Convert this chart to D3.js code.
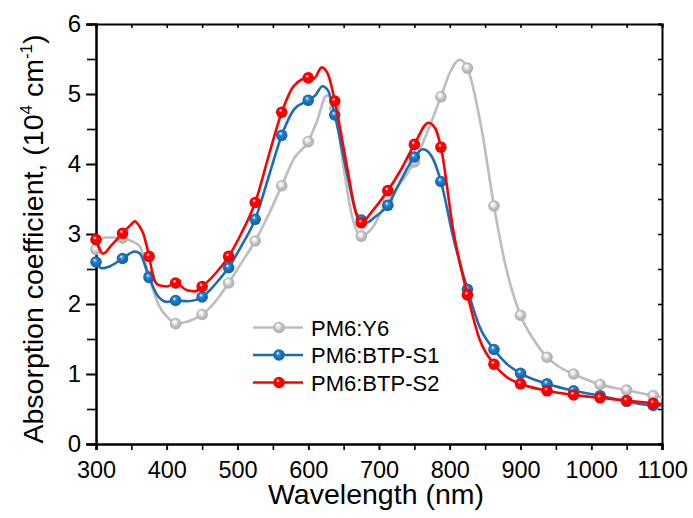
<!DOCTYPE html>
<html lang="en">
	<head>
		<meta charset="utf-8">
		<title>Absorption coefficient</title>
		<style>
			body { margin: 0; background: #fff; }
			svg text { font-family: Arial, "Liberation Sans", sans-serif; fill: #000; }
		</style>
	</head>
	<body>
		<div id="chart"></div>
		<script src="https://d3js.org/d3.v7.min.js"></script>
		<script>

			// data (wavelength in nm, coefficient in 1e4 cm-1)
			var y6W  = [300,306,312,325,337.5,350,362,375,383,390,402,412.5,430,450,470,487.5,505,525,545,562.5,580,600,612,626,637.5,650,662,675,690,712.5,730,750,770,787.5,800,814,825,845,862.5,880,900,918,937.5,955,975,1012.5,1050,1087.5,1100]
			var y6V  = [2.78,2.9,2.95,2.95,2.94,2.9,2.82,2.4,2.13,1.96,1.8,1.72,1.75,1.85,2.05,2.30,2.58,2.90,3.3,3.69,4.08,4.32,4.6,4.98,4.8,3.95,3.25,2.97,3.08,3.5,3.72,4.03,4.5,4.96,5.3,5.49,5.37,4.5,3.40,2.5,1.84,1.5,1.24,1.1,1.0,0.85,0.77,0.69,0.67]

			var s1W  = [300,308,320,337.5,355,362,375,387,400,412.5,430,450,470,487.5,505,525,545,562.5,580,600,610,620,628,637.5,655,668,675,682,695,712.5,730,750,762,775,787.5,805,825,842,862.5,880,900,937.5,975,1012.5,1050,1087.5,1100]
			var s1V  = [2.60,2.51,2.54,2.65,2.75,2.72,2.38,2.12,2.03,2.05,2.04,2.10,2.3,2.52,2.82,3.21,3.85,4.41,4.78,4.91,4.98,5.11,5.05,4.70,3.85,3.3,3.2,3.16,3.25,3.41,3.75,4.10,4.21,4.1,3.75,2.95,2.21,1.68,1.35,1.15,1.01,0.86,0.76,0.69,0.61,0.55,0.55]

			var s2W  = [300,310,322,337.5,348,355,362,367,375,381,388,400,412.5,428,440,450,470,487.5,505,525,545,562.5,580,600,608,619,628,637.5,655,668,675,690,712.5,730,750,770,780,787.5,805,825,842,862.5,880,900,937.5,975,1012.5,1050,1087.5,1100]
			var s2V  = [2.92,2.72,2.84,3.01,3.12,3.18,3.1,3.0,2.68,2.39,2.27,2.25,2.30,2.2,2.18,2.25,2.45,2.68,3.0,3.45,4.15,4.74,5.12,5.23,5.22,5.38,5.28,4.90,3.95,3.28,3.16,3.32,3.62,3.9,4.28,4.59,4.5,4.24,3.05,2.13,1.5,1.14,0.96,0.86,0.76,0.70,0.66,0.62,0.58,0.57]

			var markerW = [300,337.5,375,412.5,450,487.5,525,562.5,600,637.5,675,712.5,750,787.5,825,862.5,900,937.5,975,1012.5,1050,1087.5]

			var seriesNames = ["PM6:Y6", "PM6:BTP-S1", "PM6:BTP-S2"]
			var seriesColors = ["#bdbdbd", "#1a6db5", "#ff0000"]
			var xTicks = [300,400,500,600,700,800,900,1000,1100]
			var yTicks = [0,1,2,3,4,5,6]

			var series = [
				{name: seriesNames[0], color: seriesColors[0], w: y6W, v: y6V},
				{name: seriesNames[1], color: seriesColors[1], w: s1W, v: s1V},
				{name: seriesNames[2], color: seriesColors[2], w: s2W, v: s2V}
			]

			var W = 693, H = 518
			var margin = {top: 24, right: 31, bottom: 74, left: 96}
			var width = W - margin.left - margin.right,
			    height = H - margin.top - margin.bottom

			var svg = d3.select("#chart").append("svg")
				.attr("width", W).attr("height", H)

			var defs = svg.append("defs")
			series.forEach(function(s, i) {
				var g = defs.append("radialGradient")
					.attr("id", "ball" + i)
					.attr("cx", "50%").attr("cy", "50%").attr("r", "55%")
					.attr("fx", "38%").attr("fy", "32%")
				g.append("stop").attr("offset", "0%").attr("stop-color", "#ffffff")
				g.append("stop").attr("offset", "30%").attr("stop-color", d3.color(s.color).brighter(0.6))
				g.append("stop").attr("offset", "60%").attr("stop-color", s.color)
				g.append("stop").attr("offset", "100%").attr("stop-color", d3.color(s.color).darker(0.3))
			})

			var plot = svg.append("g")
				.attr("transform", "translate(" + margin.left + "," + margin.top + ")")

			var x = d3.scaleLinear().domain([300, 1100]).range([0, width])
			var y = d3.scaleLinear().domain([0, 6]).range([height, 0])

			var minorX = d3.range(300, 1101, 50)
			var minorY = d3.range(0, 6.01, 0.5)

			// bottom axis
			plot.append("g")
				.attr("transform", "translate(0," + height + ")")
				.call(d3.axisBottom(x).tickValues(minorX).tickSize(6).tickFormat(""))
			plot.append("g")
				.attr("class", "xlab")
				.attr("transform", "translate(0," + height + ")")
				.call(d3.axisBottom(x).tickValues(xTicks).tickSize(6).tickPadding(11).tickFormat(d3.format("d")))
			// top axis, ticks inward
			plot.append("g")
				.call(d3.axisTop(x).tickValues(minorX).tickSize(-4).tickFormat(""))
			// left axis
			plot.append("g")
				.call(d3.axisLeft(y).tickValues(minorY).tickSize(9).tickFormat(""))
			plot.append("g")
				.call(d3.axisLeft(y).tickValues(yTicks).tickSize(10).tickPadding(5).tickFormat(d3.format("d")))
			// right axis, ticks inward
			plot.append("g")
				.attr("transform", "translate(" + width + ",0)")
				.call(d3.axisRight(y).tickValues(minorY).tickSize(-4).tickFormat(""))

			plot.selectAll(".domain").attr("stroke", "#000").attr("stroke-width", 2)
			plot.selectAll(".tick line").attr("stroke", "#000").attr("stroke-width", 1.6)
			plot.selectAll(".tick text").style("font-size", "24px").attr("fill", "#000")
			plot.selectAll(".xlab .tick text").style("font-size", "23.5px")

			var line = d3.line()
				.x(function(d) { return x(d[0]) })
				.y(function(d) { return y(d[1]) })
				.curve(d3.curveMonotoneX)

			series.forEach(function(s, i) {
				var pts = s.w.map(function(w, k) { return [w, s.v[k]] })
				plot.append("path")
					.datum(pts)
					.attr("fill", "none")
					.attr("stroke", s.color)
					.attr("stroke-width", 2.6)
					.attr("d", line)
				plot.selectAll(".m" + i)
					.data(pts.filter(function(p) { return markerW.indexOf(p[0]) >= 0 }))
					.enter().append("circle")
					.attr("class", "m" + i)
					.attr("cx", function(d) { return x(d[0]) })
					.attr("cy", function(d) { return y(d[1]) })
					.attr("r", 5.8)
					.attr("fill", "url(#ball" + i + ")")
			})

			// legend
			var legend = svg.append("g")
			series.forEach(function(s, i) {
				var ly = 327.5 + i * 27.5
				legend.append("line")
					.attr("x1", 253).attr("x2", 303).attr("y1", ly).attr("y2", ly)
					.attr("stroke", s.color).attr("stroke-width", 2.6)
				legend.append("circle")
					.attr("cx", 279).attr("cy", ly).attr("r", 5.8)
					.attr("fill", "url(#ball" + i + ")")
				legend.append("text")
					.attr("x", 311).attr("y", ly + 8)
					.style("font-size", "22px")
					.text(s.name)
			})

			// axis titles
			svg.append("text")
				.attr("x", margin.left + width / 2 - 3).attr("y", 504)
				.attr("text-anchor", "middle")
				.style("font-size", "28.5px")
				.text("Wavelength (nm)")

			var yt = svg.append("text")
				.attr("transform", "translate(43,239) rotate(-90)")
				.attr("text-anchor", "middle")
				.style("font-size", "28.5px")
			yt.append("tspan").text("Absorption coefficient, (10")
			yt.append("tspan").attr("dy", -11).style("font-size", "17px").text("4")
			yt.append("tspan").attr("dy", 11).text(" cm")
			yt.append("tspan").attr("dy", -11).style("font-size", "17px").text("-1")
			yt.append("tspan").attr("dy", 11).text(")")

		</script>
	</body>
</html>
